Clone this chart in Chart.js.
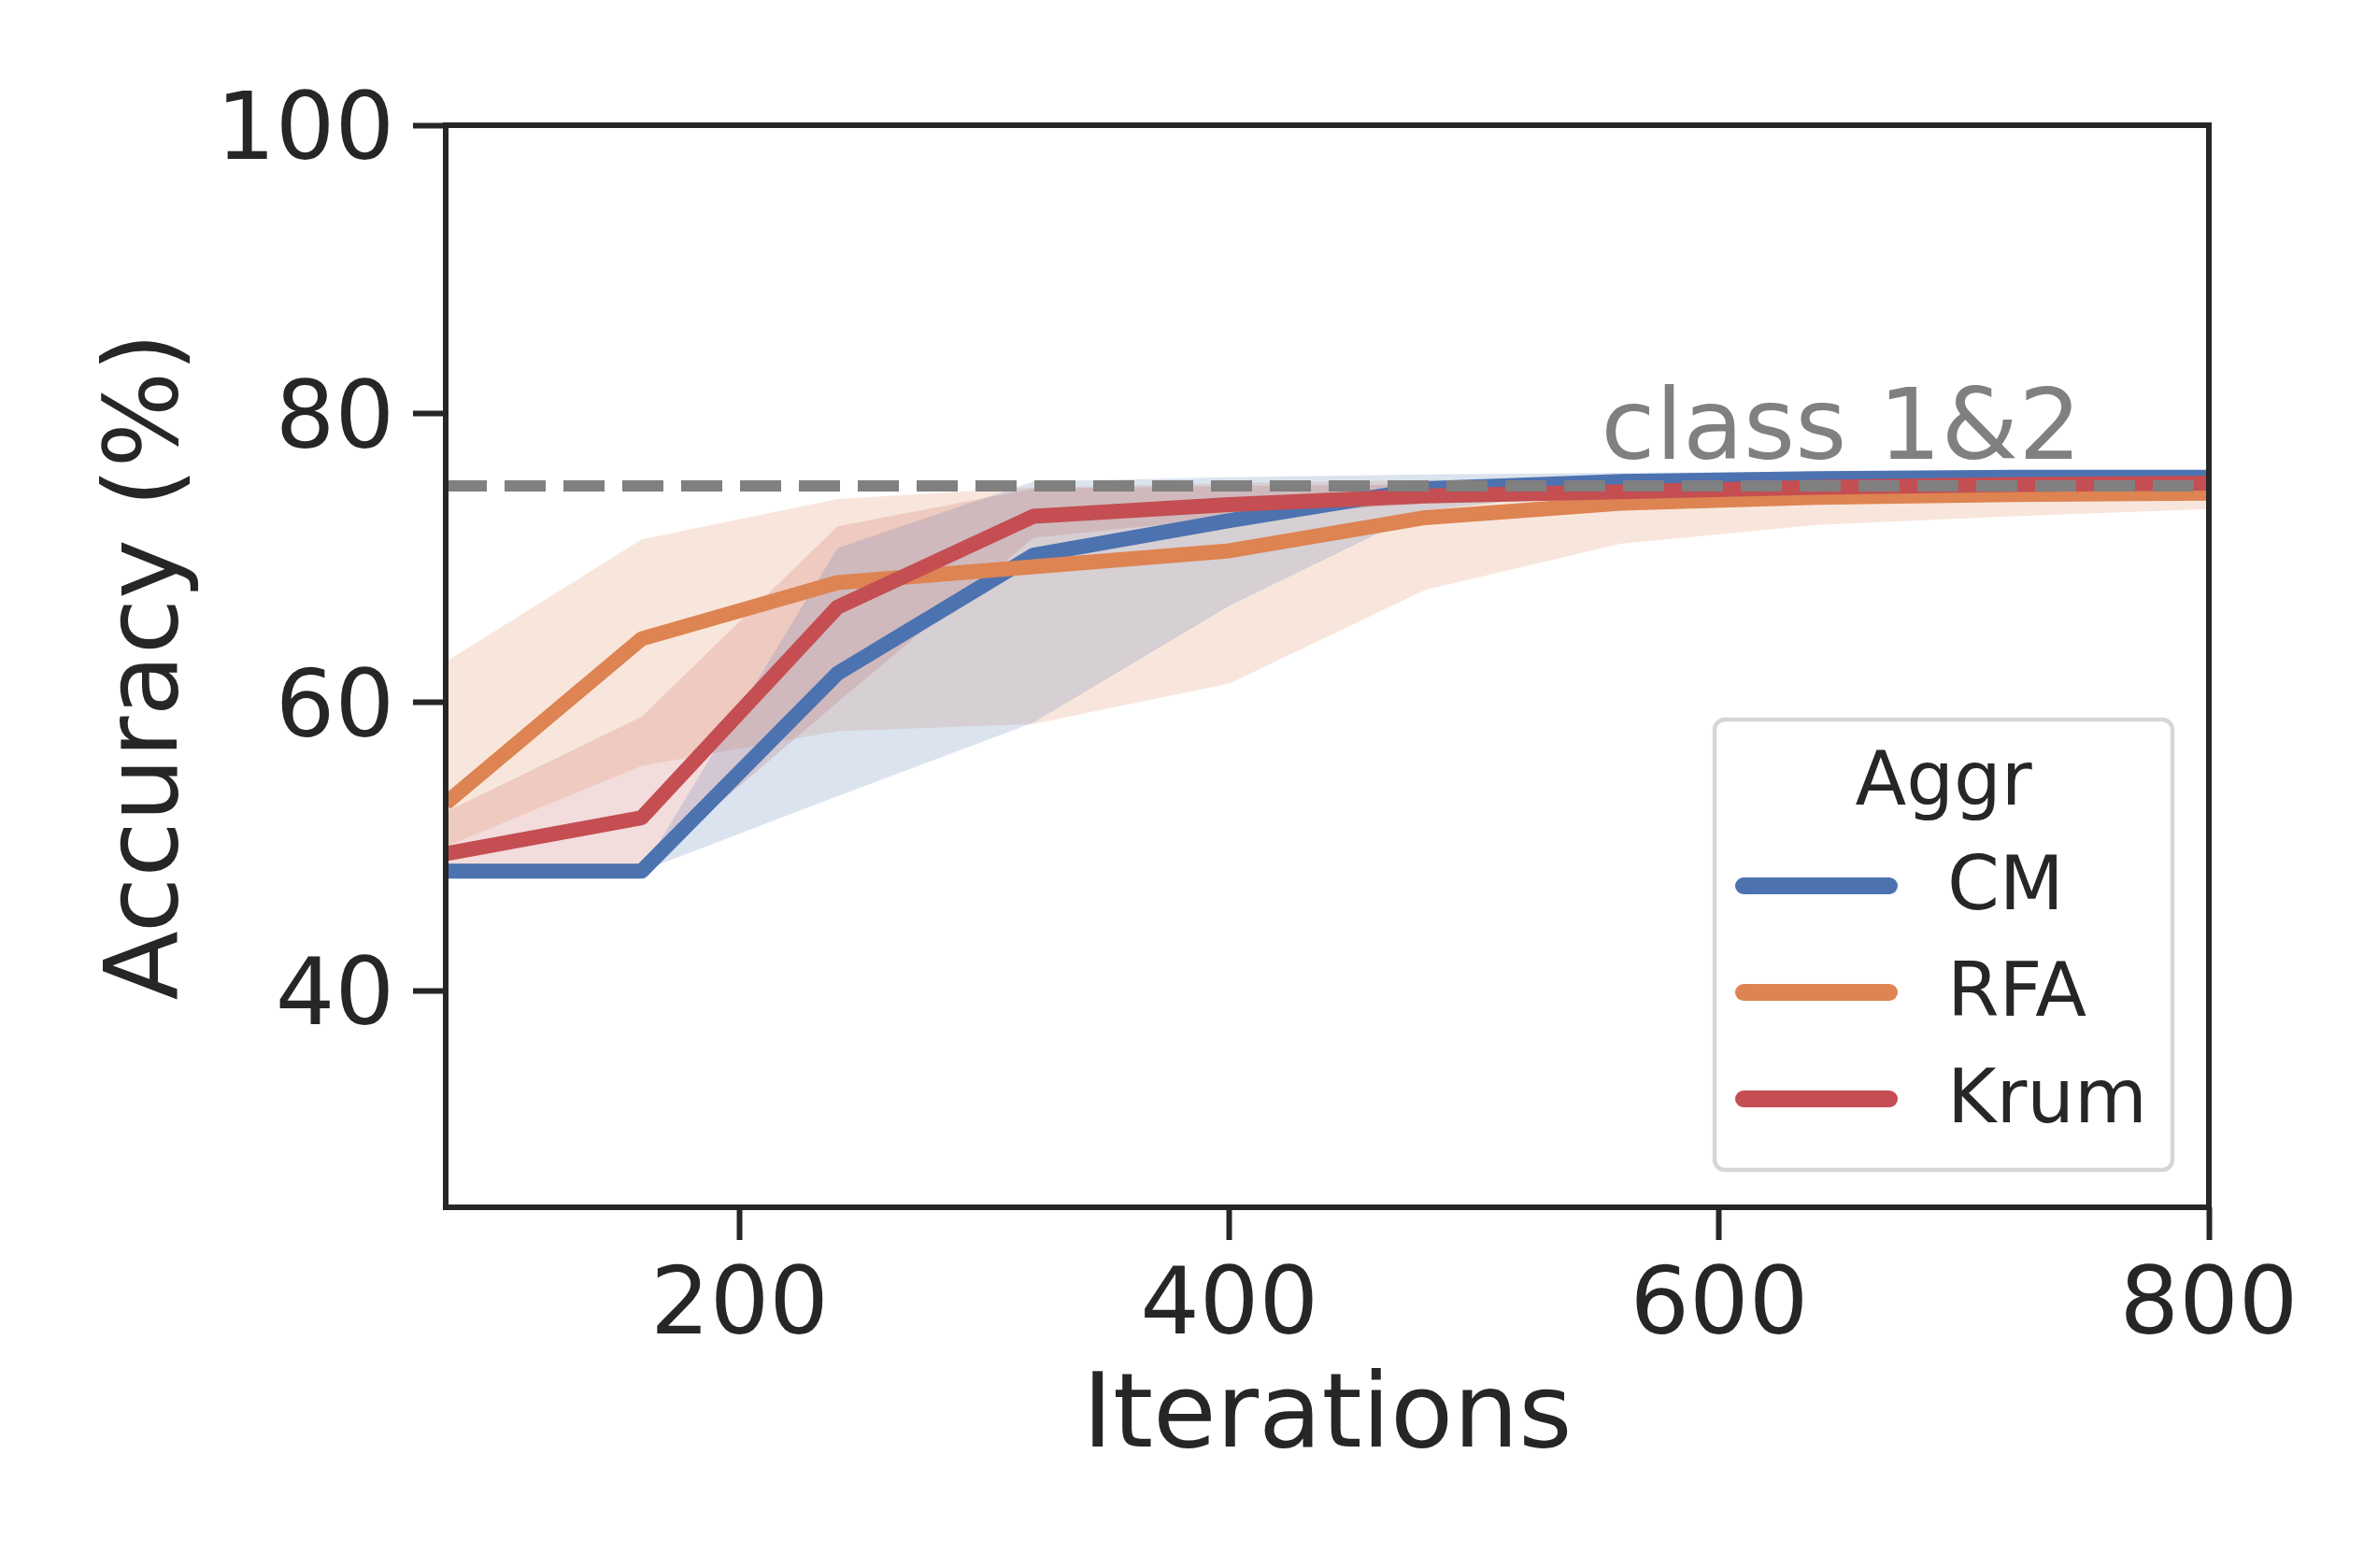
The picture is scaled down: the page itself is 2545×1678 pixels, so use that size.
<!DOCTYPE html>
<html>
<head>
<meta charset="utf-8">
<title>Accuracy vs iterations</title>
<script src="https://cdn.jsdelivr.net/npm/chart.js@4.4.1/dist/chart.umd.min.js"></script>
<style>
  html, body { margin: 0; padding: 0; background: #fff; }
  #chart { display: block; }
</style>
</head>
<body>
<canvas id="chart" width="2545" height="1678"></canvas>
<script>
  /* =============================== */
  /* Data */
  /* =============================== */
  const iterations = [80, 160, 240, 320, 400, 480, 560, 640, 720, 800];
  const seriesNames = ["CM", "RFA", "Krum"];

  const cmMean  = [48.3, 48.3, 62.0, 70.2, 72.6, 74.8, 75.3, 75.5, 75.6, 75.6];
  const cmLow   = [48.3, 48.3, 53.5, 58.6, 66.7, 73.3, 74.8, 75.1, 75.3, 75.3];
  const cmHigh  = [48.3, 48.3, 70.7, 75.3, 75.6, 75.8, 75.9, 76.0, 76.0, 76.0];

  const rfaMean = [53.0, 64.4, 68.3, 69.4, 70.5, 72.8, 73.8, 74.2, 74.4, 74.5];
  const rfaLow  = [50.0, 55.6, 58.0, 58.5, 61.3, 67.8, 71.0, 72.3, 72.9, 73.4];
  const rfaHigh = [62.8, 71.3, 74.1, 74.9, 75.2, 75.4, 75.5, 75.5, 75.5, 75.5];

  const krumMean = [49.5, 52.0, 66.6, 72.9, 73.7, 74.3, 74.6, 74.9, 75.1, 75.2];
  const krumLow  = [48.3, 48.4, 60.0, 71.4, 72.8, 73.8, 74.2, 74.5, 74.7, 74.8];
  const krumHigh = [52.4, 59.0, 72.2, 74.8, 75.0, 75.1, 75.3, 75.4, 75.5, 75.5];

  const xTicks = [200, 400, 600, 800];
  const yTicks = [40, 60, 80, 100];
  const xRange = [80, 800];
  const yRange = [25, 100];

  const refLevel = 75;
  const refLabel = "class 1&2";
  const legendTitle = "Aggr";

  /* =============================== */
  /* Styles */
  /* =============================== */
  const colors = ["#4c72b0", "#dd8452", "#c44e52"];
  const bandColors = ["rgba(76,114,176,0.2)", "rgba(221,132,82,0.2)", "rgba(196,78,82,0.2)"];
  const ink = "#262626";
  const font = '"DejaVu Sans", sans-serif';

  const means = [cmMean, rfaMean, krumMean];
  const lows = [cmLow, rfaLow, krumLow];
  const highs = [cmHigh, rfaHigh, krumHigh];

  const pts = arr => arr.map((v, i) => ({ x: iterations[i], y: v }));

  const datasets = [];
  // reference line on top of everything
  datasets.push({
    label: refLabel,
    data: [{ x: xRange[0], y: refLevel }, { x: xRange[1], y: refLevel }],
    borderColor: "#808080",
    borderWidth: 12,
    borderDash: [44, 19],
    pointRadius: 0,
    fill: false,
    clip: 0,
    order: 0
  });
  // mean lines: Krum on top, then RFA, then CM
  seriesNames.forEach((name, i) => {
    datasets.push({
      label: name,
      data: pts(means[i]),
      borderColor: colors[i],
      borderWidth: 16,
      borderJoinStyle: "round",
      pointRadius: 0,
      fill: false,
      clip: 0,
      order: 3 - i
    });
  });
  // bands (upper filled down to lower)
  seriesNames.forEach((name, i) => {
    datasets.push({
      label: name + " high",
      data: pts(highs[i]),
      borderWidth: 0,
      borderColor: "transparent",
      backgroundColor: bandColors[i],
      pointRadius: 0,
      fill: "+1",
      clip: 0,
      order: 10 + i
    });
    datasets.push({
      label: name + " low",
      data: pts(lows[i]),
      borderWidth: 0,
      borderColor: "transparent",
      pointRadius: 0,
      fill: false,
      clip: 0,
      order: 10 + i
    });
  });

  /* =============================== */
  /* Frame, reference label, legend */
  /* =============================== */
  const decorations = {
    id: "decorations",
    afterDatasetsDraw(chart) {
      const { ctx, chartArea: a, scales: { x, y } } = chart;
      ctx.save();
      ctx.font = "106px " + font;
      ctx.fillStyle = "#808080";
      ctx.textAlign = "right";
      ctx.textBaseline = "alphabetic";
      ctx.fillText(refLabel, x.getPixelForValue(748), y.getPixelForValue(76.9));

      ctx.strokeStyle = ink;
      ctx.lineWidth = 6;
      ctx.strokeRect(a.left, a.top, a.right - a.left, a.bottom - a.top);
      ctx.restore();
    },
    afterDraw(chart) {
      const { ctx, chartArea: a } = chart;
      const w = 490, h = 482;
      const left = a.right - 39 - w;
      const top = a.bottom - 40 - h;
      ctx.save();
      ctx.beginPath();
      ctx.roundRect(left, top, w, h, 11);
      ctx.fillStyle = "rgba(255,255,255,0.8)";
      ctx.fill();
      ctx.lineWidth = 4.5;
      ctx.strokeStyle = "#d6d6d6";
      ctx.stroke();

      ctx.fillStyle = ink;
      ctx.font = "80px " + font;
      ctx.textAlign = "center";
      ctx.textBaseline = "alphabetic";
      ctx.fillText(legendTitle, left + 245, top + 91);

      seriesNames.forEach((name, i) => {
        const ly = top + 178 + i * 114;
        ctx.beginPath();
        ctx.moveTo(left + 31, ly);
        ctx.lineTo(left + 187, ly);
        ctx.lineCap = "round";
        ctx.lineWidth = 18;
        ctx.strokeStyle = colors[i];
        ctx.stroke();
        ctx.fillStyle = ink;
        ctx.textAlign = "left";
        ctx.textBaseline = "middle";
        ctx.fillText(name, left + 249, ly + 4);
      });
      ctx.restore();
    }
  };

  new Chart(document.getElementById("chart"), {
    type: "line",
    data: { datasets: datasets },
    options: {
      responsive: false,
      animation: false,
      devicePixelRatio: 1,
      layout: { padding: { left: 0, top: 134, right: 181, bottom: 0 } },
      plugins: {
        legend: { display: false },
        tooltip: { enabled: false },
        filler: { propagate: false }
      },
      elements: { line: { tension: 0 } },
      scales: {
        x: {
          type: "linear",
          min: xRange[0],
          max: xRange[1],
          afterBuildTicks: s => { s.ticks = xTicks.map(v => ({ value: v })); },
          afterFit: s => { s.height = 386; },
          border: { display: false },
          grid: {
            drawOnChartArea: false,
            drawTicks: true,
            tickLength: 35,
            tickWidth: 6,
            tickColor: ink
          },
          ticks: {
            color: ink,
            font: { family: font, size: 100 },
            padding: 14,
            maxRotation: 0,
            autoSkip: false
          },
          title: {
            display: true,
            text: "Iterations",
            color: ink,
            font: { family: font, size: 110, lineHeight: 1 },
            padding: { top: 0, bottom: 104 }
          }
        },
        y: {
          type: "linear",
          min: yRange[0],
          max: yRange[1],
          afterBuildTicks: s => { s.ticks = yTicks.map(v => ({ value: v })); },
          afterFit: s => { s.width = 477; },
          border: { display: false },
          grid: {
            drawOnChartArea: false,
            drawTicks: true,
            tickLength: 35,
            tickWidth: 6,
            tickColor: ink
          },
          ticks: {
            color: ink,
            font: { family: font, size: 100 },
            padding: 20,
            labelOffset: 10,
            autoSkip: false
          },
          title: {
            display: true,
            text: "Accuracy (%)",
            color: ink,
            font: { family: font, size: 108, lineHeight: 1 },
            padding: { top: 107, bottom: 0 }
          }
        }
      }
    },
    plugins: [decorations]
  });
</script>
</body>
</html>
